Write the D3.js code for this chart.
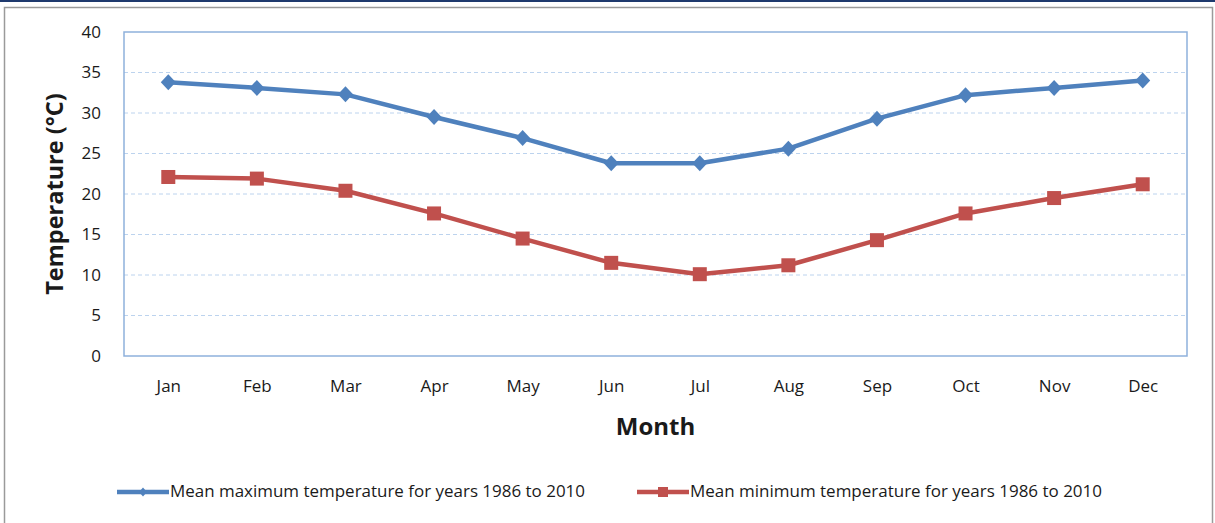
<!DOCTYPE html>
<html lang="en">
<head>
<meta charset="UTF-8">
<title>Mean temperature by month</title>
<script src="https://d3js.org/d3.v7.min.js"></script>
<style>
    body { margin: 0; background: #fff; }
    text { font-family: "Open Sans", "DejaVu Sans", sans-serif; fill: #1a1a1a; }
</style>
</head>
<body>
<div id="chart"></div>
<script>
    // data
    const months = ["Jan", "Feb", "Mar", "Apr", "May", "Jun", "Jul", "Aug", "Sep", "Oct", "Nov", "Dec"];
    const maxTemp = [33.8, 33.1, 32.3, 29.5, 26.9, 23.8, 23.8, 25.6, 29.3, 32.2, 33.1, 34.0];
    const minTemp = [22.1, 21.9, 20.4, 17.6, 14.5, 11.5, 10.1, 11.2, 14.3, 17.6, 19.5, 21.2];
    const yTicks = [0, 5, 10, 15, 20, 25, 30, 35, 40];
    const seriesNames = ["Mean maximum temperature for years 1986 to 2010",
                         "Mean minimum temperature for years 1986 to 2010"];

    const W = 1215, H = 523;
    const margin = { top: 32, right: 28, bottom: 167, left: 124 },
        width = W - margin.left - margin.right,
        height = H - margin.top - margin.bottom;

    const blue = "#4f81bd", red = "#c0504d";

    const svg = d3.select("#chart").append("svg")
        .attr("width", W).attr("height", H);

    // outer frame
    svg.append("rect").attr("x", 0).attr("y", 0).attr("width", W).attr("height", 2)
        .attr("fill", "#1f3a6e");
    svg.append("rect").attr("x", 4.5).attr("y", 7.5).attr("width", 1208).attr("height", 520)
        .attr("fill", "none").attr("stroke", "#9a9a9a").attr("stroke-width", 1.5);

    const g = svg.append("g").attr("transform", "translate(" + margin.left + "," + margin.top + ")");

    const x = d3.scalePoint().domain(months).range([0, width]).padding(0.5);
    const y = d3.scaleLinear().domain([0, 40]).range([height, 0]);

    // dashed gridlines
    g.selectAll(".grid").data(yTicks.filter(d => d > 0 && d < 40)).join("line")
        .attr("x1", 0).attr("x2", width)
        .attr("y1", d => y(d)).attr("y2", d => y(d))
        .attr("stroke", "#bcd3ee").attr("stroke-width", 1)
        .attr("stroke-dasharray", "4,3");

    // plot border
    g.append("rect").attr("width", width).attr("height", height)
        .attr("fill", "none").attr("stroke", "#8eb1dc").attr("stroke-width", 1.5);

    // y axis labels
    const yAxis = g.append("g")
        .call(d3.axisLeft(y).tickValues(yTicks).tickSize(0).tickPadding(23));
    yAxis.select(".domain").remove();
    yAxis.selectAll("text").style("font-size", "17px").attr("fill", "#1a1a1a")
        .style("font-family", "'Open Sans', sans-serif");

    // x axis labels
    const xAxis = g.append("g").attr("transform", "translate(0," + height + ")")
        .call(d3.axisBottom(x).tickSize(0).tickPadding(24));
    xAxis.select(".domain").remove();
    xAxis.selectAll("text").style("font-size", "17px").attr("fill", "#1a1a1a")
        .style("font-family", "'Open Sans', sans-serif");

    // axis titles
    g.append("text")
        .attr("x", width / 2).attr("y", height + 79)
        .attr("text-anchor", "middle")
        .style("font-size", "24px").style("font-weight", "bold")
        .text("Month");

    g.append("text")
        .attr("transform", "translate(" + (-61) + "," + (height / 2) + ") rotate(-90)")
        .attr("text-anchor", "middle")
        .style("font-size", "23.5px").style("font-weight", "bold")
        .text("Temperature (°C)");

    const line = d3.line().x((d, i) => x(months[i])).y(d => y(d));

    // max series
    g.append("path").datum(maxTemp)
        .attr("fill", "none").attr("stroke", blue).attr("stroke-width", 4.5)
        .attr("stroke-linejoin", "round").attr("d", line);
    g.selectAll(".dia").data(maxTemp).join("path")
        .attr("transform", (d, i) => "translate(" + x(months[i]) + "," + y(d) + ")")
        .attr("d", "M0,-8L7.5,0L0,8L-7.5,0Z")
        .attr("fill", blue);

    // min series
    g.append("path").datum(minTemp)
        .attr("fill", "none").attr("stroke", red).attr("stroke-width", 4.5)
        .attr("stroke-linejoin", "round").attr("d", line);
    g.selectAll(".sq").data(minTemp).join("rect")
        .attr("x", (d, i) => x(months[i]) - 7).attr("y", d => y(d) - 7)
        .attr("width", 14).attr("height", 14)
        .attr("fill", red);

    // legend
    const legend = svg.append("g").attr("transform", "translate(0,492)");
    const items = [
        { name: seriesNames[0], color: blue, x0: 117, len: 415, shape: "diamond" },
        { name: seriesNames[1], color: red, x0: 637, len: 412, shape: "square" }
    ];
    items.forEach(it => {
        legend.append("line").attr("x1", it.x0).attr("x2", it.x0 + 52)
            .attr("stroke", it.color).attr("stroke-width", 4.5);
        if (it.shape === "diamond") {
            legend.append("path").attr("transform", "translate(" + (it.x0 + 26) + ",0)")
                .attr("d", "M0,-4.5L4,0L0,4.5L-4,0Z").attr("fill", it.color);
        } else {
            legend.append("rect").attr("x", it.x0 + 21).attr("y", -5)
                .attr("width", 10).attr("height", 10).attr("fill", it.color);
        }
        legend.append("text").attr("x", it.x0 + 53).attr("y", 0).attr("dy", "0.35em")
            .style("font-size", "15.5px")
            .attr("textLength", it.len).attr("lengthAdjust", "spacingAndGlyphs")
            .text(it.name);
    });
</script>
</body>
</html>
